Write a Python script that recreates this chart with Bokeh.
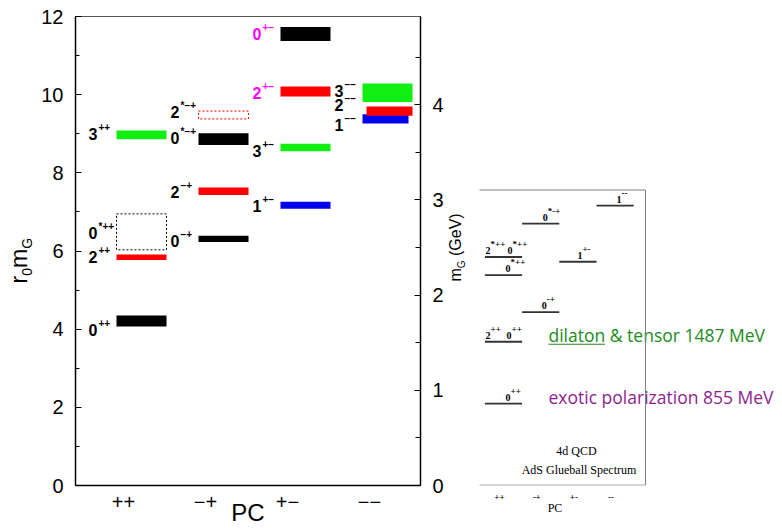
import math
from bokeh.plotting import figure
from bokeh.models import Range1d, LinearAxis, FixedTicker, ColumnDataSource
from bokeh.layouts import row
from bokeh.embed import file_html
from bokeh.resources import INLINE
from bokeh.core.properties import value

# ---------------- data: lattice glueball spectrum (r0 * mG) ----------------
pc_groups = ["++", "\u2212+", "+\u2212", "\u2212\u2212"]

state_J = ["0", "2", "0", "3", "0", "2", "0", "2", "1", "3", "2", "0", "1", "2", "3"]
state_PC = ["++", "++", "*++", "++",
            "\u2212+", "\u2212+", "*\u2212+", "*\u2212+",
            "+\u2212", "+\u2212", "+\u2212", "+\u2212",
            "\u2212\u2212", "\u2212\u2212", "\u2212\u2212"]
state_group = [0, 0, 0, 0, 1, 1, 1, 1, 2, 2, 2, 2, 3, 3, 3]
r0m_center = [4.21, 5.84, 6.49, 8.97, 6.31, 7.53, 8.86, 9.48, 7.17, 8.65, 10.08, 11.55, 9.38, 9.58, 10.05]
r0m_error = [0.14, 0.07, 0.46, 0.11, 0.08, 0.095, 0.15, 0.10, 0.09, 0.095, 0.13, 0.18, 0.12, 0.12, 0.235]
label_r0m = [3.97, 5.85, 6.45, 9.00, 6.26, 7.52, 8.88, 9.55, 7.15, 8.57, 10.03, 11.54, 9.23, 9.73, 10.10]

r0_per_gev = 2.436
left_ticks = [0, 2, 4, 6, 8, 10, 12]
left_minor = [1, 3, 5, 7, 9, 11]
right_ticks = [0, 1, 2, 3, 4]
right_minor = [0.5, 1.5, 2.5, 3.5, 4.5]

# ---------------- data: AdS glueball spectrum (GeV) ----------------
ads_group = [0, 0, 1, 0, 1, 2, 0, 3]
ads_mass = [0.86, 1.51, 1.82, 2.21, 2.75, 2.35, 2.40, 2.94]
ads_lab_group = [0, 0, 0, 1, 0, 1, 2, 0, 0, 3]
ads_lab_mass = [0.86, 1.51, 1.51, 1.82, 2.21, 2.75, 2.35, 2.40, 2.40, 2.94]
ads_lab_J = ["0", "2", "0", "0", "0", "0", "1", "2", "0", "1"]
ads_lab_PC = ["++", "++", "++", "-+", "*++", "*-+", "+-", "*++", "*++", "--"]
ads_pc = ["++", "-+", "+-", "--"]
ads_notes = ["dilaton & tensor 1487 MeV", "exotic polarization 855 MeV"]

# ---------------- styles ----------------
GREEN, RED, BLUE, BLACK, MAG = "#11ee11", "#ff0000", "#0000ee", "#000000", "#ff00ff"
bar_color = [BLACK, RED, BLACK, GREEN, BLACK, RED, BLACK, RED,
             BLUE, GREEN, RED, BLACK, BLUE, RED, GREEN]
bar_dotted = [False, False, True, False, False, False, False, True,
              False, False, False, False, False, False, False]
trim_left_px = [0] * 12 + [0, 4, 0]
trim_right_px = [0] * 12 + [4, 0, 0]
label_color = [BLACK] * 10 + [MAG, MAG] + [BLACK] * 3
ads_lab_dx_px = [2, -18, 3, 1, 2, 2, -0.5, -18, 4, 1.5]
NOTE_COLORS = ["#228b22", "#8e1f8e"]

# ---------------- geometry (page pixels) ----------------
H = 530
W0, W1, W2 = 38, 408, 332
FT, FB = 16, 45
FRAME_BOTTOM = H - FB            # 485
FH = FRAME_BOTTOM - FT           # 469
GX = 82.0                        # px per PC group (main)
BAR_SHIFT = 18 / GX
HW = 25 / GX

def fx(px):
    return (px - 123) / GX

gev_top = 12.0 / r0_per_gev
PXG = FH / gev_top
XS2 = 37.2

def gx(px):
    return (px - 503) / XS2

def gy(py):
    return (FRAME_BOTTOM - py) / PXG

SANS = "Liberation Sans"
SERIF = "Liberation Serif"

def bare(p):
    p.grid.visible = False
    p.outline_line_color = None
    p.background_fill_color = "white"
    p.border_fill_color = "white"

def rotated(p, xmap, ymap, pieces, start_py, font):
    """pieces: (text, size px, advance px, x of glyph centre line)"""
    py = start_py
    xs, ys, ts, ss = [], [], [], []
    for txt, size, adv, cx in pieces:
        xs.append(xmap(cx))
        ys.append(ymap(py))
        ts.append(txt)
        ss.append(f"{size}px")
        py -= adv
    p.text(x=xs, y=ys, text=ts, text_font_size=ss, angle=math.pi / 2,
           text_align="left", text_baseline="middle", text_font=value(font), text_color="black")

# ---------------- left strip: y-axis title r0 mG ----------------
p0 = figure(width=W0, height=H, x_range=Range1d(0, W0), y_range=Range1d(0, FH),
            output_backend="svg", toolbar_location=None, title=None,
            x_axis_location=None, y_axis_location=None,
            min_border_left=0, min_border_right=0, min_border_top=FT, min_border_bottom=FB)
bare(p0)
rotated(p0, lambda px: px, lambda py: FRAME_BOTTOM - py,
        [("r", 23, 7.7, 18), ("0", 14, 7.8, 26), ("m", 23, 19.2, 18), ("G", 14, 10.9, 26)],
        283, SANS)

# ---------------- main figure ----------------
p1 = figure(width=W1, height=H, x_range=Range1d(fx(75), fx(420)), y_range=Range1d(0, 12),
            output_backend="svg", toolbar_location=None, title=None,
            min_border_left=75 - W0, min_border_right=W0 + W1 - 420,
            min_border_top=FT, min_border_bottom=FB)
p1.grid.visible = False
p1.outline_line_color = "#555555"
p1.outline_line_width = 1
p1.extra_y_ranges = {"gev": Range1d(0, gev_top)}

ya = p1.yaxis[0]
ya.ticker = FixedTicker(ticks=left_ticks, minor_ticks=left_minor)
ya.major_tick_in = 6
ya.major_tick_out = 0
ya.minor_tick_in = 4
ya.minor_tick_out = 0
ya.major_label_text_font = SANS
ya.major_label_text_font_size = "20px"
ya.major_label_text_color = "black"
ya.major_label_standoff = 12
ya.axis_line_width = 1.5

ra = LinearAxis(y_range_name="gev", ticker=FixedTicker(ticks=right_ticks, minor_ticks=right_minor))
ra.major_tick_in = 6
ra.major_tick_out = 0
ra.minor_tick_in = 5
ra.minor_tick_out = 0
ra.major_label_text_font = SANS
ra.major_label_text_font_size = "20px"
ra.major_label_text_color = "black"
ra.major_label_standoff = 12
ra.axis_line_width = 1.5
p1.add_layout(ra, "right")

xa = p1.xaxis[0]
xa.ticker = FixedTicker(ticks=[0, 1, 2, 3])
xa.major_label_overrides = {i: pc_groups[i] for i in range(4)}
xa.major_tick_in = 0
xa.major_tick_out = 0
xa.minor_tick_in = 0
xa.minor_tick_out = 0
xa.major_label_text_font = SANS
xa.major_label_text_font_size = "20px"
xa.major_label_text_color = "black"
xa.major_label_standoff = 9
xa.axis_line_width = 1.5
xa.axis_label = "PC"
xa.axis_label_text_font = SANS
xa.axis_label_text_font_size = "24px"
xa.axis_label_text_font_style = "normal"
xa.axis_label_text_color = "black"
xa.axis_label_standoff = -13

n = len(state_J)
bx = [state_group[i] + BAR_SHIFT for i in range(n)]
solid = [i for i in range(n) if not bar_dotted[i]]
dotted = [i for i in range(n) if bar_dotted[i]]

def bar_src(idx):
    return ColumnDataSource(dict(
        left=[bx[i] - HW + trim_left_px[i] / GX for i in idx],
        right=[bx[i] + HW - trim_right_px[i] / GX for i in idx],
        bottom=[r0m_center[i] - r0m_error[i] for i in idx],
        top=[r0m_center[i] + r0m_error[i] for i in idx],
        c=[bar_color[i] for i in idx]))

p1.quad(left="left", right="right", bottom="bottom", top="top", source=bar_src(solid),
        fill_color="c", line_color=None)
p1.quad(left="left", right="right", bottom="bottom", top="top", source=bar_src(dotted),
        fill_color=None, line_color="c", line_dash="2 2", line_width=1)

lab_src = ColumnDataSource(dict(x=[bx[i] - HW for i in range(n)], y=label_r0m,
                                J=state_J, PC=state_PC, c=label_color))
p1.text(x="x", y="y", text="J", source=lab_src, text_align="right", text_baseline="middle",
        x_offset=-19, text_color="c", text_font=value(SANS), text_font_style="bold",
        text_font_size="16px")
p1.text(x="x", y="y", text="PC", source=lab_src, text_align="left", text_baseline="middle",
        x_offset=-18, y_offset=-7, text_color="c", text_font=value(SANS), text_font_style="bold",
        text_font_size="10px")

# ---------------- inset figure (AdS spectrum) ----------------
X2L, X2R = W0 + W1, W0 + W1 + W2
p2 = figure(width=W2, height=H, x_range=Range1d(gx(X2L), gx(X2R)), y_range=Range1d(0, gev_top),
            output_backend="svg", toolbar_location=None, title=None,
            x_axis_location=None, y_axis_location=None,
            min_border_left=0, min_border_right=0, min_border_top=FT, min_border_bottom=FB)
bare(p2)
p2.extra_x_ranges = {"pc2": Range1d(gx(X2L) + 4 / XS2, gx(X2R) + 4 / XS2),
                     "pcx": Range1d(X2L - 554.5, X2R - 554.5)}

ax_pc = LinearAxis(x_range_name="pc2", ticker=FixedTicker(ticks=[0, 1, 2, 3]))
ax_pc.major_label_overrides = {i: ads_pc[i] for i in range(4)}
ax_pc.axis_line_color = None
ax_pc.major_tick_in = ax_pc.major_tick_out = ax_pc.minor_tick_in = ax_pc.minor_tick_out = 0
ax_pc.major_label_standoff = 8
ax_pc.major_label_text_font = SERIF
ax_pc.major_label_text_font_style = "bold"
ax_pc.major_label_text_font_size = "9px"
ax_pc.major_label_text_color = "black"
p2.add_layout(ax_pc, "below")

ax_pcl = LinearAxis(x_range_name="pcx", ticker=FixedTicker(ticks=[0]))
ax_pcl.major_label_overrides = {0: "PC"}
ax_pcl.axis_line_color = None
ax_pcl.major_tick_in = ax_pcl.major_tick_out = ax_pcl.minor_tick_in = ax_pcl.minor_tick_out = 0
ax_pcl.major_label_standoff = -2
ax_pcl.major_label_text_font = SERIF
ax_pcl.major_label_text_font_size = "12px"
ax_pcl.major_label_text_color = "black"
p2.add_layout(ax_pcl, "below")

# right-axis title mG (GeV), just left of the inset
rotated(p2, gx, gy,
        [("m", 16, 13.3, 455), ("G", 10, 12.2, 460.5), ("(GeV)", 16, 43, 455)],
        281, SANS)

p2.text(x=[gx(548)] * 2, y=[ads_mass[1], ads_mass[0]], text=ads_notes, text_color=NOTE_COLORS,
        text_align="left", text_baseline="middle", y_offset=-7, text_font=value("Open Sans"),
        text_font_size="17.5px")
p2.segment(x0=[gx(548)], x1=[gx(604.5)], y0=[ads_mass[1] - 2.5 / PXG], y1=[ads_mass[1] - 2.5 / PXG],
           line_color=NOTE_COLORS[0], line_width=1)

p2.line(x=[gx(479), gx(645), gx(645), gx(479)], y=[gy(189.5), gy(189.5), 0.3 / PXG, 0.3 / PXG],
        line_color="#808080", line_width=1)

p2.segment(x0=[g - 0.5 for g in ads_group], x1=[g + 0.5 for g in ads_group],
           y0=ads_mass, y1=ads_mass, line_color="#333333", line_width=1.8)

m = len(ads_lab_J)
ads_src = ColumnDataSource(dict(x=[ads_lab_group[i] + ads_lab_dx_px[i] / XS2 for i in range(m)],
                                y=ads_lab_mass, J=ads_lab_J, PC=ads_lab_PC))
p2.text(x="x", y="y", text="J", source=ads_src, text_align="left", text_baseline="middle",
        y_offset=-6.5, text_font=value(SERIF), text_font_style="bold", text_font_size="10px",
        text_color="black")
p2.text(x="x", y="y", text="PC", source=ads_src, text_align="left", text_baseline="middle",
        x_offset=5, y_offset=-13, text_font=value(SERIF), text_font_style="bold",
        text_font_size="9px", text_color="black")

p2.text(x=[gx(577.5), gx(578.5)], y=[gy(450.5), gy(469)], text=["4d  QCD", "AdS Glueball Spectrum"],
        text_align="center", text_baseline="middle", text_font=value(SERIF),
        text_font_size="12px", text_color="black")

layout = row(p0, p1, p2)
open("out.html", "w").write(file_html(layout, INLINE))
